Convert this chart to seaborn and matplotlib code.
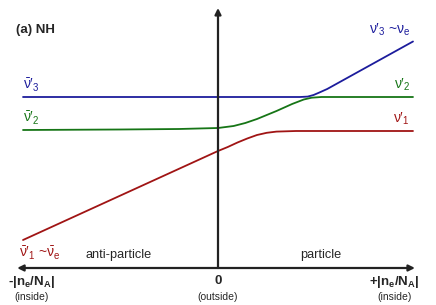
import matplotlib
matplotlib.use("Agg")
import matplotlib.pyplot as plt
import pandas as pd
import seaborn as sns

# level curves (x: -1 = far side anti-particle, +1 = particle)
blue_x = [-1.0, 0.0, 0.42, 0.46, 0.49, 0.52, 0.56, 1.0]
blue_y = [1.71, 1.71, 1.71, 1.714, 1.73, 1.755, 1.79, 2.265]
green_x = [-1.0, -0.5, -0.2, 0.0, 0.08, 0.14, 0.20, 0.30, 0.38, 0.44, 0.48, 0.53, 1.0]
green_y = [1.38, 1.385, 1.39, 1.40, 1.42, 1.45, 1.49, 1.57, 1.64, 1.685, 1.703, 1.71, 1.71]
red_x = [-1.0, 0.0, 0.05, 0.10, 0.15, 0.20, 0.25, 0.30, 0.40, 1.0]
red_y = [0.28, 1.17, 1.21, 1.255, 1.295, 1.33, 1.352, 1.364, 1.37, 1.37]

curves = pd.concat([
    pd.DataFrame({"x": blue_x, "y": blue_y, "state": "3"}),
    pd.DataFrame({"x": green_x, "y": green_y, "state": "2"}),
    pd.DataFrame({"x": red_x, "y": red_y, "state": "1"}),
])
colors = {"3": "#1c1c9c", "2": "#167516", "1": "#a01414"}

sns.set_style("white")
plt.rcParams["font.family"] = ["Liberation Sans", "DejaVu Sans"]
plt.rcParams["mathtext.fontset"] = "custom"
plt.rcParams["mathtext.rm"] = "Liberation Sans"
plt.rcParams["mathtext.it"] = "Liberation Sans"
plt.rcParams["mathtext.bf"] = "Liberation Sans:bold"

fig = plt.figure(figsize=(4.36, 3.05), dpi=100)
ax = fig.add_axes([0, 0, 1, 1])
sns.lineplot(data=curves, x="x", y="y", hue="state", palette=colors,
             sort=False, estimator=None, lw=1.3, legend=False, ax=ax)
ax.set_xlim(-1.118, 1.118)
ax.set_ylim(-0.37, 2.68)
ax.axis("off")

# axes with arrows
ax.annotate("", xy=(-1.03, 0), xytext=(1.01, 0),
            arrowprops=dict(arrowstyle="<|-|>", lw=1.6, color="#222222",
                            mutation_scale=9, shrinkA=0, shrinkB=0))
ax.annotate("", xy=(0, 2.60), xytext=(0, 0),
            arrowprops=dict(arrowstyle="-|>", lw=1.6, color="#222222",
                            mutation_scale=9, shrinkA=0, shrinkB=0))

ax.text(-1.035, 2.38, "(a) NH", fontsize=9.5, fontweight="bold", va="center")

lab = dict(fontsize=10, va="bottom")
ax.text(-1.0, 1.74, r"$\bar{\nu}$′$_3$", color=colors["3"], **lab)
ax.text(-1.0, 1.41, r"$\bar{\nu}$′$_2$", color=colors["2"], **lab)
ax.text(-1.02, 0.06, r"$\bar{\nu}$′$_1$ ~$\bar{\nu}_e$", color=colors["1"], **lab)
ax.text(0.985, 2.3, r"$\nu$′$_3$ ~$\nu_e$", color=colors["3"], ha="right", **lab)
ax.text(0.985, 1.75, r"$\nu$′$_2$", color=colors["2"], ha="right", **lab)
ax.text(0.985, 1.41, r"$\nu$′$_1$", color=colors["1"], ha="right", **lab)

ax.text(-0.51, 0.13, "anti-particle", fontsize=9.2, ha="center", va="center")
ax.text(0.525, 0.13, "particle", fontsize=9.2, ha="center", va="center")

ax.text(-0.955, -0.135, r"-|n$_\mathbf{e}$/N$_\mathbf{A}$|", fontsize=9.5,
        fontweight="bold", ha="center", va="center")
ax.text(-0.955, -0.29, "(inside)", fontsize=7.5, ha="center", va="center")
ax.text(0.0, -0.135, "0", fontsize=9.5, fontweight="bold", ha="center", va="center")
ax.text(0.0, -0.29, "(outside)", fontsize=7.5, ha="center", va="center")
ax.text(0.905, -0.135, r"+|n$_\mathbf{e}$/N$_\mathbf{A}$|", fontsize=9.5,
        fontweight="bold", ha="center", va="center")
ax.text(0.905, -0.29, "(inside)", fontsize=7.5, ha="center", va="center")

fig.savefig("out.png", dpi=100)
